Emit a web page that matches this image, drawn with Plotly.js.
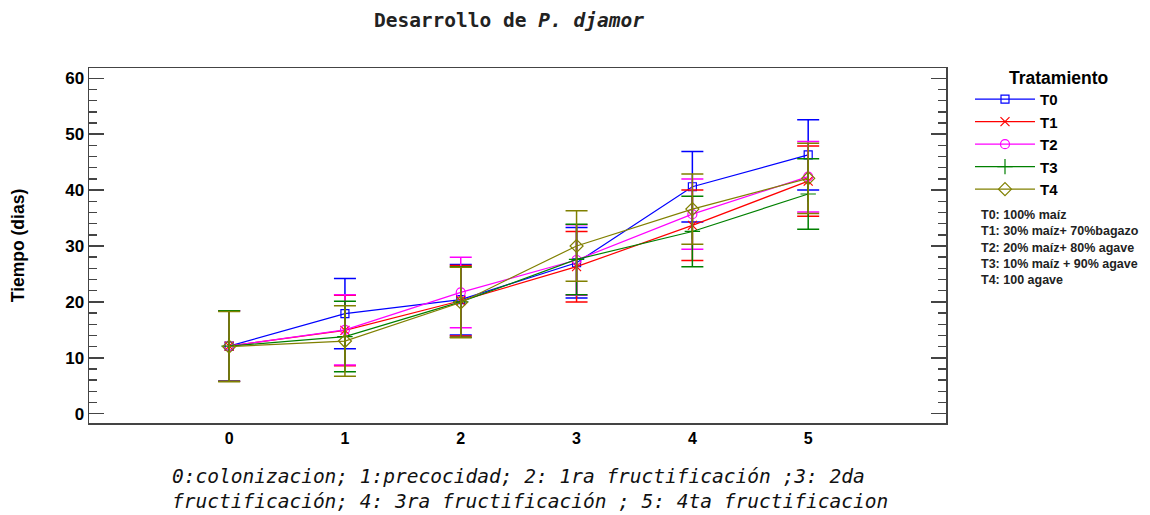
<!DOCTYPE html>
<html>
<head>
<meta charset="utf-8">
<script src="https://cdn.plot.ly/plotly-3.0.1.min.js"></script>
<style>html,body{margin:0;padding:0;background:#fff;}#chart{width:1150px;height:515px;}</style>
</head>
<body>
<div id="chart"></div>
<script>
// Data
const stages = [0, 1, 2, 3, 4, 5];
const seriesNames = ["T0", "T1", "T2", "T3", "T4"];
const T0 = [12.1, 17.9, 20.4, 27.0, 40.6, 46.3];
const T1 = [12.1, 14.9, 20.2, 26.3, 33.7, 41.6];
const T2 = [12.1, 15.0, 21.7, 27.5, 35.7, 42.4];
const T3 = [12.1, 13.8, 20.0, 27.6, 32.6, 39.3];
const T4 = [12.0, 13.0, 19.9, 30.0, 36.6, 42.1];
const errT0 = [6.3, 6.3, 6.3, 6.3, 6.3, 6.3];
const errT1 = [6.3, 6.3, 6.3, 6.3, 6.3, 6.3];
const errT2 = [6.3, 6.3, 6.3, 6.3, 6.3, 6.3];
const errT3 = [6.3, 6.3, 6.3, 6.3, 6.3, 6.3];
const errT4 = [6.3, 6.3, 6.3, 6.3, 6.3, 6.3];
const yTicks = [0, 10, 20, 30, 40, 50, 60];
const legendTitle = "Tratamiento";
const descriptions = [
  "T0: 100% maíz",
  "T1: 30% maíz+ 70%bagazo",
  "T2: 20% maíz+ 80% agave",
  "T3: 10% maíz + 90% agave",
  "T4: 100 agave"
];

const values = [T0, T1, T2, T3, T4];
const errs = [errT0, errT1, errT2, errT3, errT4];
const colors = ["#0000ff", "#ff0000", "#ff00ff", "#008000", "#808000"];
const symbols = ["square-open", "x-thin-open", "circle-open", "cross-thin-open", "diamond-open"];
const sizes = [8, 9, 9, 11, 10];

const traces = seriesNames.map((n, i) => ({
  x: stages,
  y: values[i],
  name: n,
  type: "scatter",
  mode: "lines+markers",
  line: {color: colors[i], width: 1.2},
  marker: {symbol: symbols[i], size: sizes[i], color: colors[i], line: {color: colors[i], width: 1.2}},
  error_y: {type: "data", array: errs[i], visible: true, color: colors[i], thickness: 1.5, width: 11}
}));

const layout = {
  width: 1150,
  height: 515,
  margin: {l: 89, r: 204, t: 68, b: 92},
  paper_bgcolor: "#fff",
  plot_bgcolor: "#fff",
  font: {family: "Liberation Sans, Arial, sans-serif", color: "#000"},
  title: {
    text: "Desarrollo de <i>P. djamor</i>",
    font: {family: "DejaVu Sans Mono, monospace", size: 19.5, weight: "bold", color: "#222"},
    x: 0.49, xref: "paper", xanchor: "center",
    y: 0.96, yref: "container", yanchor: "middle"
  },
  xaxis: {
    range: [-1.21, 6.19],
    tickvals: stages,
    ticks: "",
    showgrid: false,
    zeroline: false,
    showline: true,
    mirror: true,
    linecolor: "#444",
    linewidth: 1.5,
    tickfont: {family: "Liberation Sans, Arial, sans-serif", size: 16, weight: "bold", color: "#000"}
  },
  yaxis: {
    range: [-1.66, 61.84],
    tickvals: yTicks,
    ticks: "inside",
    ticklen: 15,
    tickcolor: "#444",
    tickwidth: 1.5,
    minor: {dtick: 2, ticks: "inside", ticklen: 8, tickcolor: "#444", tickwidth: 1.5},
    showgrid: false,
    zeroline: false,
    showline: true,
    mirror: "ticks",
    linecolor: "#444",
    linewidth: 1.5,
    tickfont: {family: "Liberation Sans, Arial, sans-serif", size: 17, weight: "bold", color: "#000"},
    title: {text: "Tiempo (dias)", standoff: 36, font: {family: "Liberation Sans, Arial, sans-serif", size: 17.5, weight: "bold", color: "#000"}}
  },
  legend: {
    x: 1.028, xanchor: "left",
    y: 0.958, yanchor: "top",
    bgcolor: "rgba(0,0,0,0)",
    font: {family: "Liberation Sans, Arial, sans-serif", size: 15, weight: "bold", color: "#000"},
    itemwidth: 60,
    tracegroupgap: 0
  },
  annotations: [
    {
      text: legendTitle,
      xref: "paper", yref: "paper",
      x: 1.131, y: 0.972, xanchor: "center", yanchor: "middle",
      showarrow: false,
      font: {family: "Liberation Sans, Arial, sans-serif", size: 17.5, weight: "bold", color: "#000"}
    },
    {
      text: descriptions.join("<br>"),
      xref: "paper", yref: "paper",
      x: 1.039, y: 0.612, xanchor: "left", yanchor: "top",
      align: "left", showarrow: false,
      font: {family: "Liberation Sans, Arial, sans-serif", size: 12.5, weight: "bold", color: "#222"}
    },
    {
      text: "<i>0:colonizacion; 1:precocidad; 2: 1ra fructificación ;3: 2da<br>fructificación; 4: 3ra fructificación ; 5: 4ta fructificacion</i>",
      xref: "paper", yref: "paper",
      x: 0.0945, y: -0.112, xanchor: "left", yanchor: "top",
      align: "left", showarrow: false,
      font: {family: "DejaVu Sans Mono, monospace", size: 19.5, color: "#111"}
    }
  ]
};

Plotly.newPlot("chart", traces, layout, {displayModeBar: false, staticPlot: true});
</script>
</body>
</html>
